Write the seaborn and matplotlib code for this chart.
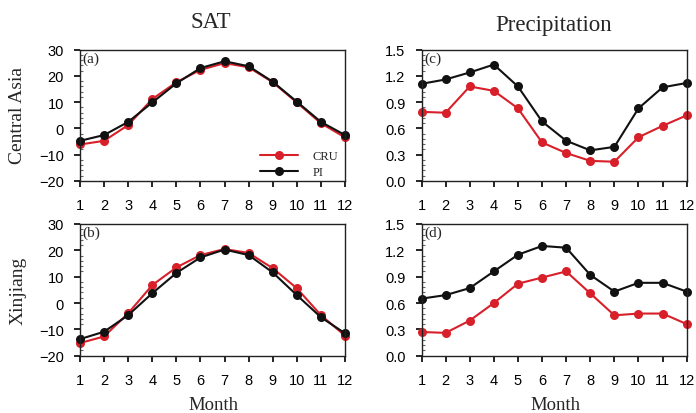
import numpy as np
import pandas as pd
import matplotlib
matplotlib.use("Agg")
import matplotlib.pyplot as plt
import seaborn as sns
from matplotlib.ticker import AutoMinorLocator, MultipleLocator, FormatStrFormatter

months = list(range(1, 13))
sat_ca_cru = [-6.1, -4.7, 1.3, 11.2, 17.6, 22.3, 24.9, 23.3, 17.6, 9.9, 2.0, -3.4]
sat_ca_pi = [-4.7, -2.5, 2.5, 9.9, 17.2, 23.0, 25.6, 23.7, 17.8, 10.2, 2.5, -2.5]
sat_xj_cru = [-15.2, -12.7, -3.9, 6.8, 13.5, 18.2, 20.5, 19.0, 13.2, 5.6, -4.6, -12.4]
sat_xj_pi = [-13.7, -10.9, -4.6, 3.7, 11.4, 17.3, 20.3, 18.2, 11.6, 3.0, -5.4, -11.5]
pr_ca_cru = [0.79, 0.78, 1.08, 1.03, 0.83, 0.44, 0.32, 0.23, 0.22, 0.50, 0.63, 0.75]
pr_ca_pi = [1.11, 1.16, 1.24, 1.33, 1.08, 0.68, 0.46, 0.35, 0.39, 0.83, 1.07, 1.12]
pr_xj_cru = [0.27, 0.26, 0.40, 0.60, 0.82, 0.89, 0.96, 0.71, 0.46, 0.48, 0.48, 0.36]
pr_xj_pi = [0.65, 0.69, 0.77, 0.96, 1.15, 1.25, 1.23, 0.92, 0.73, 0.83, 0.83, 0.73]

series_names = ["CRU", "PI"]
colors = {"CRU": "#d8202a", "PI": "#111111"}
panel_labels = ["(a)", "(b)", "(c)", "(d)"]
col_titles = ["SAT", "Precipitation"]
row_labels = ["Central Asia", "Xinjiang"]

sns.set_theme(style="ticks")
plt.rcParams['font.family'] = ['Liberation Sans', 'DejaVu Sans']

fig = plt.figure(figsize=(6.96, 4.14), dpi=100)
W, H = 696, 414

def axes_px(l, t, r, b):
    return fig.add_axes([l / W, 1 - b / H, (r - l) / W, (b - t) / H])

ax_a = axes_px(80, 50.7, 345, 182)
ax_b = axes_px(80, 225, 345, 356.7)
ax_c = axes_px(421.5, 50.7, 686.7, 182)
ax_d = axes_px(421.5, 225, 686.7, 356.7)

panels = [
    (ax_a, sat_ca_cru, sat_ca_pi, (-20, 30), 10),
    (ax_b, sat_xj_cru, sat_xj_pi, (-20, 30), 10),
    (ax_c, pr_ca_cru, pr_ca_pi, (0.0, 1.5), 0.3),
    (ax_d, pr_xj_cru, pr_xj_pi, (0.0, 1.5), 0.3),
]

serif = ['Liberation Serif', 'DejaVu Serif']

for i, (ax, cru, pi, ylim, step) in enumerate(panels):
    df = pd.DataFrame({
        "Month": months * 2,
        "value": list(cru) + list(pi),
        "series": ["CRU"] * 12 + ["PI"] * 12,
    })
    sns.lineplot(data=df, x="Month", y="value", hue="series",
                 hue_order=series_names, palette=colors,
                 marker="o", markersize=6.5, markeredgewidth=0,
                 linewidth=1.5, ax=ax, clip_on=False,
                 legend=(i == 0))
    ax.set_xlim(1, 12)
    ax.set_ylim(*ylim)
    ax.set_xticks(months)
    ax.yaxis.set_major_locator(MultipleLocator(step))
    ax.yaxis.set_minor_locator(AutoMinorLocator(5))
    if step < 1:
        ax.yaxis.set_major_formatter(FormatStrFormatter('%.1f'))
    ax.tick_params(axis='both', which='major', direction='out', length=4.5,
                   width=1.2, labelsize=10.5, colors='black')
    ax.tick_params(axis='x', which='major', pad=8)
    ax.tick_params(axis='y', which='major', pad=7)
    ax.tick_params(axis='y', which='minor', direction='in', length=2.2,
                   width=0.8, color='#666666')
    ax.tick_params(axis='x', which='minor', bottom=False)
    for s in ax.spines.values():
        s.set_linewidth(1.0)
        s.set_color('#222222')
        s.set_visible(True)
    ax.set_xlabel("")
    ax.set_ylabel("")
    ax.text(0.01, 0.985, panel_labels[i], transform=ax.transAxes,
            ha='left', va='top', fontsize=11, family=serif)

# legend in panel (a)
leg = ax_a.legend(loc='upper left', bbox_to_anchor=(255 / W, 1 - 146 / H),
                  bbox_transform=fig.transFigure, frameon=False,
                  handlelength=3.0, prop={'family': serif, 'size': 9},
                  labelspacing=0.36, handletextpad=1.2, borderaxespad=0.0)
leg.set_title(None)

fig.text(211 / W, 1 - 22.5 / H, col_titles[0], ha='center', va='center',
         fontsize=16.5, family=serif)
fig.text(554 / W, 1 - 25.5 / H, col_titles[1], ha='center', va='center',
         fontsize=16.5, family=serif)
fig.text(18 / W, 1 - 116 / H, row_labels[0], ha='center', va='center',
         rotation=90, fontsize=14, family=serif)
fig.text(18 / W, 1 - 291 / H, row_labels[1], ha='center', va='center',
         rotation=90, fontsize=14, family=serif)
fig.text(213 / W, 1 - 406 / H, "Month", ha='center', va='center',
         fontsize=13.5, family=serif)
fig.text(555 / W, 1 - 406 / H, "Month", ha='center', va='center',
         fontsize=13.5, family=serif)

fig.savefig("out.png", dpi=100)
